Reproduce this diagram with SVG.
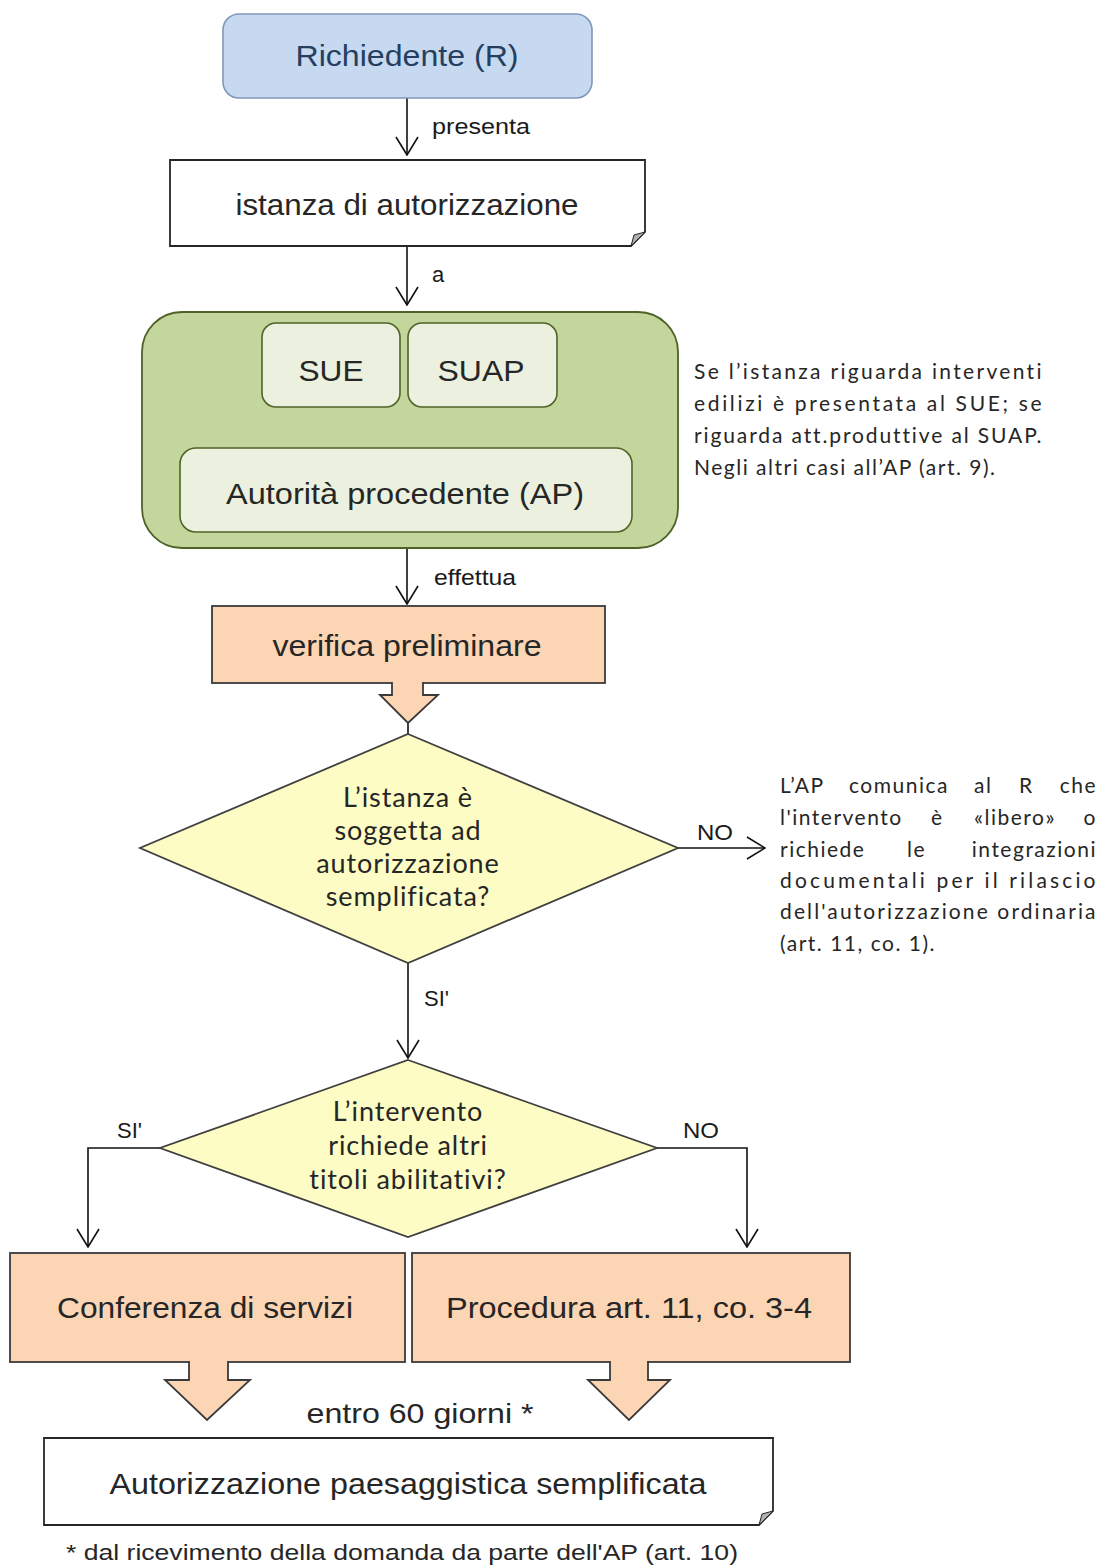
<svg xmlns="http://www.w3.org/2000/svg" width="1100" height="1565" viewBox="0 0 1100 1565">
<style>
.ar{font-family:"Liberation Sans",Arial,sans-serif;fill:#262626}
.big{font-size:30px}
.lbl{font-size:22px;fill:#1a1a1a}
.cal{font-family:Lato,"Open Sans",sans-serif;fill:#262626}
.dia{font-size:27px;letter-spacing:0.9px}
.note{font-size:21px;letter-spacing:1.5px}
.conn{fill:none;stroke:#111;stroke-width:1.6}
.peach{fill:#fcd5b4;stroke:#3a3a3a;stroke-width:1.8}
.dmd{fill:#fdfcc4;stroke:#404040;stroke-width:1.8}
.inner{fill:#ebf1de;stroke:#4f6228;stroke-width:1.6}
.doc{fill:#fff;stroke:#262626;stroke-width:1.8}
</style>
<defs>
<marker id="ah" viewBox="0 0 20 24" refX="19" refY="12" markerWidth="20" markerHeight="24" markerUnits="userSpaceOnUse" orient="auto">
<path d="M1,1 L19,12 L1,23" fill="none" stroke="#111" stroke-width="1.6"/>
</marker>
</defs>
<rect width="1100" height="1565" fill="#fff"/>

<g id="connectors">
<path class="conn" d="M407,98 V155" marker-end="url(#ah)"/>
<path class="conn" d="M407,246 V305" marker-end="url(#ah)"/>
<path class="conn" d="M332,407 V441" marker-end="url(#ah)"/>
<path class="conn" d="M484,407 V441" marker-end="url(#ah)"/>
<path class="conn" d="M407,532 V604" marker-end="url(#ah)"/>
<path class="conn" d="M408,723 V734"/>
<path class="conn" d="M408,963 V1058" marker-end="url(#ah)"/>
<path class="conn" d="M678,848 H765" marker-end="url(#ah)"/>
<path class="conn" d="M160,1148 H88 V1247" marker-end="url(#ah)"/>
<path class="conn" d="M657,1148 H747 V1247" marker-end="url(#ah)"/>
<text class="ar lbl" x="432" y="134" textLength="98" lengthAdjust="spacingAndGlyphs">presenta</text>
<text class="ar lbl" x="432" y="282">a</text>
<text class="ar lbl" x="434" y="585" textLength="82" lengthAdjust="spacingAndGlyphs">effettua</text>
<text class="ar lbl" x="424" y="1006">SI'</text>
<text class="ar lbl" x="697" y="840" textLength="36" lengthAdjust="spacingAndGlyphs">NO</text>
<text class="ar lbl" x="117" y="1138">SI'</text>
<text class="ar lbl" x="683" y="1138" textLength="36" lengthAdjust="spacingAndGlyphs">NO</text>
</g>

<g id="richiedente">
<rect x="223" y="14" width="369" height="84" rx="16" fill="#c6d9f1" stroke="#7f97b9" stroke-width="1.6"/>
<text class="ar big" x="407" y="66" text-anchor="middle" textLength="223" lengthAdjust="spacingAndGlyphs" style="fill:#243f60">Richiedente (R)</text>
</g>

<g id="istanza">
<path class="doc" d="M170,160 H645 V232 L631,246 H170 Z"/>
<path d="M631,246 L634,235 L645,232 Z" fill="#b0b0b0" stroke="#262626" stroke-width="1"/>
<text class="ar big" x="407" y="215" text-anchor="middle" textLength="343" lengthAdjust="spacingAndGlyphs">istanza di autorizzazione</text>
</g>

<g id="ente">
<rect x="142" y="312" width="536" height="236" rx="40" fill="#c3d69b" stroke="#4f6228" stroke-width="1.8"/>
</g>
<g id="sue">
<rect class="inner" x="262" y="323" width="138" height="84" rx="14"/>
<text class="ar big" x="331" y="381" text-anchor="middle" textLength="65" lengthAdjust="spacingAndGlyphs">SUE</text>
</g>
<g id="suap">
<rect class="inner" x="408" y="323" width="149" height="84" rx="14"/>
<text class="ar big" x="481" y="381" text-anchor="middle" textLength="87" lengthAdjust="spacingAndGlyphs">SUAP</text>
</g>
<g id="ap">
<rect class="inner" x="180" y="448" width="452" height="84" rx="16"/>
<text class="ar big" x="405" y="504" text-anchor="middle" textLength="358" lengthAdjust="spacingAndGlyphs">Autorità procedente (AP)</text>
</g>

<g id="nota-art9">
<text class="cal note" x="694" y="379" textLength="349" lengthAdjust="spacing">Se l’istanza riguarda interventi</text>
<text class="cal note" x="694" y="411" textLength="349" lengthAdjust="spacing">edilizi è presentata al SUE; se</text>
<text class="cal note" x="694" y="443" textLength="349" lengthAdjust="spacing">riguarda att.produttive al SUAP.</text>
<text class="cal note" x="694" y="475">Negli altri casi all’AP (art. 9).</text>
</g>

<g id="verifica">
<rect class="peach" x="212" y="606" width="393" height="77"/>
<path class="peach" d="M392,682 V695 H380 L408,723 L438,695 H423 V682"/>
<rect x="393" y="681" width="29" height="4" fill="#fcd5b4"/>
<text class="ar big" x="407" y="656" text-anchor="middle" textLength="269" lengthAdjust="spacingAndGlyphs">verifica preliminare</text>
</g>

<g id="decisione1">
<polygon class="dmd" points="408,734 678,848 408,963 140,848"/>
<text class="cal dia" x="408" y="807" text-anchor="middle">L’istanza è</text>
<text class="cal dia" x="408" y="840" text-anchor="middle">soggetta ad</text>
<text class="cal dia" x="408" y="873" text-anchor="middle">autorizzazione</text>
<text class="cal dia" x="408" y="906" text-anchor="middle">semplificata?</text>
</g>

<g id="nota-art11">
<text class="cal note" y="793"><tspan x="780">L’AP</tspan><tspan x="849">comunica</tspan><tspan x="974">al</tspan><tspan x="1019">R</tspan><tspan x="1097" text-anchor="end">che</tspan></text>
<text class="cal note" y="825"><tspan x="780">l'intervento</tspan><tspan x="931">è</tspan><tspan x="974">«libero»</tspan><tspan x="1097" text-anchor="end">o</tspan></text>
<text class="cal note" y="857"><tspan x="780">richiede</tspan><tspan x="907">le</tspan><tspan x="1097" text-anchor="end">integrazioni</tspan></text>
<text class="cal note" x="780" y="888" textLength="317" lengthAdjust="spacing">documentali per il rilascio</text>
<text class="cal note" x="780" y="919" textLength="317" lengthAdjust="spacing">dell'autorizzazione ordinaria</text>
<text class="cal note" x="780" y="951">(art. 11, co. 1).</text>
</g>

<g id="decisione2">
<polygon class="dmd" points="408,1060 657,1148 408,1237 160,1148"/>
<text class="cal dia" x="408" y="1121" text-anchor="middle">L’intervento</text>
<text class="cal dia" x="408" y="1155" text-anchor="middle">richiede altri</text>
<text class="cal dia" x="408" y="1189" text-anchor="middle">titoli abilitativi?</text>
</g>

<g id="conferenza">
<rect class="peach" x="10" y="1253" width="395" height="109"/>
<path class="peach" d="M189,1361 V1380 H165 L207,1420 L250,1380 H228 V1361"/>
<rect x="190" y="1359" width="37" height="5" fill="#fcd5b4"/>
<text class="ar big" x="205" y="1318" text-anchor="middle" textLength="296" lengthAdjust="spacingAndGlyphs">Conferenza di servizi</text>
</g>

<g id="procedura">
<rect class="peach" x="412" y="1253" width="438" height="109"/>
<path class="peach" d="M610,1361 V1380 H588 L629,1420 L670,1380 H648 V1361"/>
<rect x="611" y="1359" width="36" height="5" fill="#fcd5b4"/>
<text class="ar big" x="629" y="1318" text-anchor="middle" textLength="366" lengthAdjust="spacingAndGlyphs">Procedura art. 11, co. 3-4</text>
</g>

<text class="ar" x="420" y="1423" font-size="28" text-anchor="middle" textLength="227" lengthAdjust="spacingAndGlyphs">entro 60 giorni *</text>

<g id="autorizzazione">
<path class="doc" d="M44,1438 H773 V1511 L759,1525 H44 Z"/>
<path d="M759,1525 L762,1514 L773,1511 Z" fill="#b0b0b0" stroke="#262626" stroke-width="1"/>
<text class="ar big" x="408" y="1494" text-anchor="middle" textLength="597" lengthAdjust="spacingAndGlyphs">Autorizzazione paesaggistica semplificata</text>
</g>

<text class="ar" x="402" y="1560" font-size="22" text-anchor="middle" textLength="672" lengthAdjust="spacingAndGlyphs">* dal ricevimento della domanda da parte dell'AP (art. 10)</text>
</svg>
